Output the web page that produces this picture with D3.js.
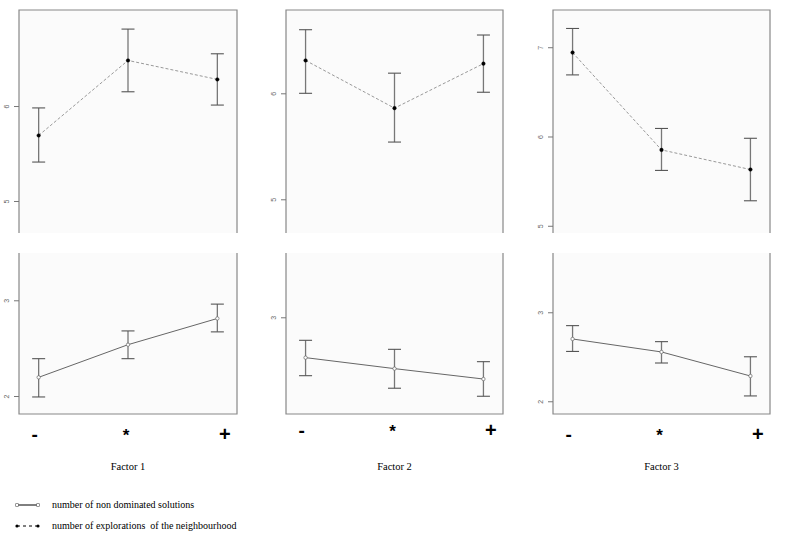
<!DOCTYPE html>
<html>
<head>
<meta charset="utf-8">
<script src="https://cdn.jsdelivr.net/npm/d3@7"></script>
<style>
  body { margin: 0; background: #fff; }
  svg { display: block; }
</style>
</head>
<body>
<svg id="chart" width="790" height="545"></svg>
<script>
// factor levels on the x axis
const levels = ['-', '*', '+'];
const factorNames = ['Factor 1', 'Factor 2', 'Factor 3'];

// top row: number of explorations of the neighbourhood (mean, lower, upper)
const explMean = [[5.69, 6.48, 6.28], [6.31, 5.86, 6.28], [6.94, 5.85, 5.63]];
const explLow = [[5.41, 6.15, 6.01], [6.0, 5.54, 6.01], [6.69, 5.62, 5.28]];
const explHigh = [[5.98, 6.81, 6.55], [6.6, 6.19, 6.55], [7.21, 6.09, 5.98]];
const explDomain = [[4.663, 7.011], [4.682, 6.786], [4.919, 7.417]];
const explTicks = [[5, 6], [5, 6], [5, 6, 7]];

// bottom row: number of non dominated solutions
const ndMean = [[2.195, 2.536, 2.81], [2.588, 2.476, 2.37], [2.70, 2.554, 2.284]];
const ndLow = [[1.99, 2.39, 2.67], [2.404, 2.276, 2.194], [2.56, 2.43, 2.06]];
const ndHigh = [[2.39, 2.68, 2.96], [2.765, 2.673, 2.547], [2.85, 2.67, 2.50]];
const ndDomain = [[1.812, 3.494], [2.013, 3.656], [1.857, 3.666]];
const ndTicks = [[2, 3], [3], [2, 3]];

const legendLabels = ['number of non dominated solutions', 'number of explorations  of the neighbourhood'];

const svg = d3.select('#chart');
const cols = [[19, 237], [286, 503], [553, 770]];
const topRow = [10, 233];
const botRow = [253, 414];
const symNudge = { '-': -4, '*': -2, '+': 7.5 };
const symY = [435, 431, 435];

function panel(col, row, mean, low, high, domain, ticks, opts) {
  const [x0, x1] = cols[col];
  const [y0, y1] = row;
  const x = d3.scalePoint().domain(levels).range([x0, x1]).padding(0.22);
  const y = d3.scaleLinear().domain(domain).range([y1, y0]);
  const g = svg.append('g');

  g.append('rect')
    .attr('x', x0).attr('y', y0)
    .attr('width', x1 - x0).attr('height', y1 - y0)
    .attr('fill', '#fbfbfb');

  // borders: top row is open at the bottom, bottom row open at the top
  const border = opts.top
    ? `M${x0},${y1}V${y0}H${x1}V${y1}`
    : `M${x0},${y0}V${y1}H${x1}V${y0}`;
  g.append('path').attr('d', border).attr('fill', 'none')
    .attr('stroke', '#888').attr('stroke-width', 1.2);

  const ax = g.append('g')
    .attr('transform', `translate(${x0},0)`)
    .call(d3.axisLeft(y).tickValues(ticks).tickSize(5).tickFormat(d3.format('d')));
  ax.select('.domain').remove();
  ax.selectAll('.tick line').attr('stroke', '#777');
  ax.selectAll('.tick text')
    .attr('x', 0).attr('dy', 0)
    .attr('transform', 'translate(-10,0) rotate(-90)')
    .attr('text-anchor', 'middle')
    .attr('fill', '#666')
    .attr('font-family', 'Liberation Sans, Arial, sans-serif')
    .attr('font-size', 7);

  const pts = levels.map((l, i) => ({ l, m: mean[i], lo: low[i], hi: high[i] }));

  g.append('path')
    .datum(pts)
    .attr('d', d3.line().x((d) => x(d.l)).y((d) => y(d.m)))
    .attr('fill', 'none')
    .attr('stroke', opts.top ? '#999' : '#666')
    .attr('stroke-width', 1)
    .attr('stroke-dasharray', opts.top ? '3,2' : null);

  const bars = g.append('g').selectAll('g').data(pts).join('g');
  bars.append('line')
    .attr('x1', (d) => x(d.l)).attr('x2', (d) => x(d.l))
    .attr('y1', (d) => y(d.lo)).attr('y2', (d) => y(d.hi))
    .attr('stroke', '#777').attr('stroke-width', 1.3);
  ['lo', 'hi'].forEach((k) => {
    bars.append('line')
      .attr('x1', (d) => x(d.l) - 6.5).attr('x2', (d) => x(d.l) + 6.5)
      .attr('y1', (d) => y(d[k])).attr('y2', (d) => y(d[k]))
      .attr('stroke', '#555').attr('stroke-width', 1.1);
  });

  bars.append('circle')
    .attr('cx', (d) => x(d.l)).attr('cy', (d) => y(d.m))
    .attr('r', opts.top ? 1.8 : 1.7)
    .attr('fill', opts.top ? '#000' : '#fff')
    .attr('stroke', opts.top ? '#000' : '#666')
    .attr('stroke-width', opts.top ? 0.4 : 0.7);

  return x;
}

factorNames.forEach((name, c) => {
  panel(c, topRow, explMean[c], explLow[c], explHigh[c], explDomain[c], explTicks[c], { top: true });
  const x = panel(c, botRow, ndMean[c], ndLow[c], ndHigh[c], ndDomain[c], ndTicks[c], { top: false });

  svg.append('g').selectAll('text').data(levels).join('text')
    .attr('x', (d) => x(d) + symNudge[d])
    .attr('y', symY[c] + 6)
    .attr('text-anchor', 'middle')
    .attr('font-family', 'Liberation Sans, Arial, sans-serif')
    .attr('font-weight', 'bold')
    .attr('font-size', (d) => (d === '+' ? 20 : d === '-' ? 19 : 17))
    .attr('fill', '#000')
    .text((d) => d);

  svg.append('text')
    .attr('x', (cols[c][0] + cols[c][1]) / 2)
    .attr('y', 470)
    .attr('text-anchor', 'middle')
    .attr('font-family', 'Liberation Serif, Times New Roman, serif')
    .attr('font-size', 10.5)
    .attr('fill', '#000')
    .text(name);
});

// legend
const legend = svg.append('g');
legendLabels.forEach((lab, i) => {
  const ly = 505 + i * 21;
  legend.append('line')
    .attr('x1', 17).attr('x2', 38).attr('y1', ly).attr('y2', ly)
    .attr('stroke', '#000').attr('stroke-width', 1)
    .attr('stroke-dasharray', i === 1 ? '3,3' : null);
  [17, 38].forEach((lx) => {
    if (i === 0) {
      legend.append('rect').attr('x', lx - 1.3).attr('y', ly - 1.3)
        .attr('width', 2.6).attr('height', 2.6)
        .attr('fill', '#fff').attr('stroke', '#555').attr('stroke-width', 0.6);
    } else {
      legend.append('circle').attr('cx', lx).attr('cy', ly).attr('r', 1.6).attr('fill', '#000');
    }
  });
  legend.append('text')
    .attr('x', 52).attr('y', ly + 3)
    .attr('font-family', 'Liberation Serif, Times New Roman, serif')
    .attr('font-size', 10)
    .attr('fill', '#000')
    .attr('xml:space', 'preserve')
    .style('white-space', 'pre')
    .text(lab);
});
</script>
</body>
</html>
